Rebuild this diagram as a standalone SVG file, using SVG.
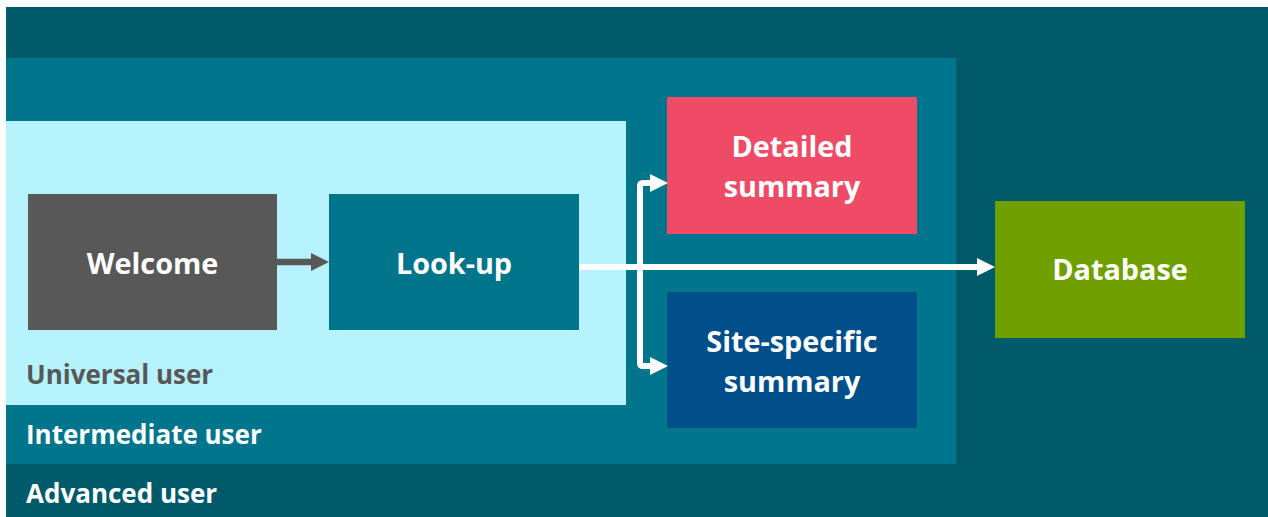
<svg xmlns="http://www.w3.org/2000/svg" width="1268" height="517" viewBox="0 0 1268 517">
  <defs>
    <style>
      .lbl { font-family: "Open Sans", "Noto Sans", sans-serif; font-weight: 700; text-anchor: middle; dominant-baseline: central; font-size: 28.8px; fill: #ffffff; }
      .tier { font-family: "Open Sans", "Noto Sans", sans-serif; font-weight: 700; font-size: 26px; fill: #ffffff; }
      .wire { fill: none; stroke: #ffffff; stroke-width: 6; stroke-linejoin: round; }
    </style>
    <marker id="headW" viewBox="0 0 18 18" refX="0" refY="9" markerUnits="userSpaceOnUse" markerWidth="18" markerHeight="18" orient="auto">
      <path d="M0,0 L18,9 L0,18 Z" fill="#ffffff"/>
    </marker>
    <marker id="headG" viewBox="0 0 18 18" refX="0" refY="9" markerUnits="userSpaceOnUse" markerWidth="18" markerHeight="18" orient="auto">
      <path d="M0,0 L18,9 L0,18 Z" fill="#585858"/>
    </marker>
  </defs>

  <!-- user tiers -->
  <g id="tier-advanced">
    <rect x="6" y="7" width="1262" height="510" fill="#015a69"/>
    <text class="tier" x="26" y="503">Advanced user</text>
  </g>
  <g id="tier-intermediate">
    <rect x="6" y="58" width="950" height="406" fill="#00758c"/>
    <text class="tier" x="26" y="444">Intermediate user</text>
  </g>
  <g id="tier-universal">
    <rect x="6" y="121" width="620" height="284" fill="#b6f2fc"/>
    <text class="tier" x="26" y="384" style="fill:#585858">Universal user</text>
  </g>

  <!-- nodes -->
  <g id="welcome">
    <rect x="28" y="194" width="249" height="136" fill="#585858"/>
    <text class="lbl" x="152.5" y="262">Welcome</text>
  </g>
  <g id="lookup">
    <rect x="329" y="194" width="250" height="136" fill="#00758c"/>
    <text class="lbl" x="454" y="262">Look-up</text>
  </g>
  <g id="detailed">
    <rect x="667" y="97" width="250" height="137" fill="#ef4a66"/>
    <text class="lbl" x="792" y="145">Detailed</text>
    <text class="lbl" x="792" y="185">summary</text>
  </g>
  <g id="site">
    <rect x="667" y="292" width="250" height="136" fill="#004f8a"/>
    <text class="lbl" x="792" y="340">Site-specific</text>
    <text class="lbl" x="792" y="380">summary</text>
  </g>
  <g id="database">
    <rect x="995" y="201" width="250" height="137" fill="#70a000"/>
    <text class="lbl" x="1120" y="268">Database</text>
  </g>

  <!-- connectors -->
  <g id="connectors">
    <line x1="277" y1="262" x2="311" y2="262" stroke="#585858" stroke-width="6.5" marker-end="url(#headG)"/>
    <line class="wire" x1="579" y1="267" x2="977" y2="267" marker-end="url(#headW)"/>
    <path class="wire" stroke-width="5" d="M650,183 L643,183 Q640,183 640,186 L640,363 Q640,366 643,366 L650,366"/>
    <line x1="648" y1="183" x2="650" y2="183" stroke="#ffffff" stroke-width="5" marker-end="url(#headW)"/>
    <line x1="648" y1="366" x2="650" y2="366" stroke="#ffffff" stroke-width="5" marker-end="url(#headW)"/>
  </g>
</svg>
